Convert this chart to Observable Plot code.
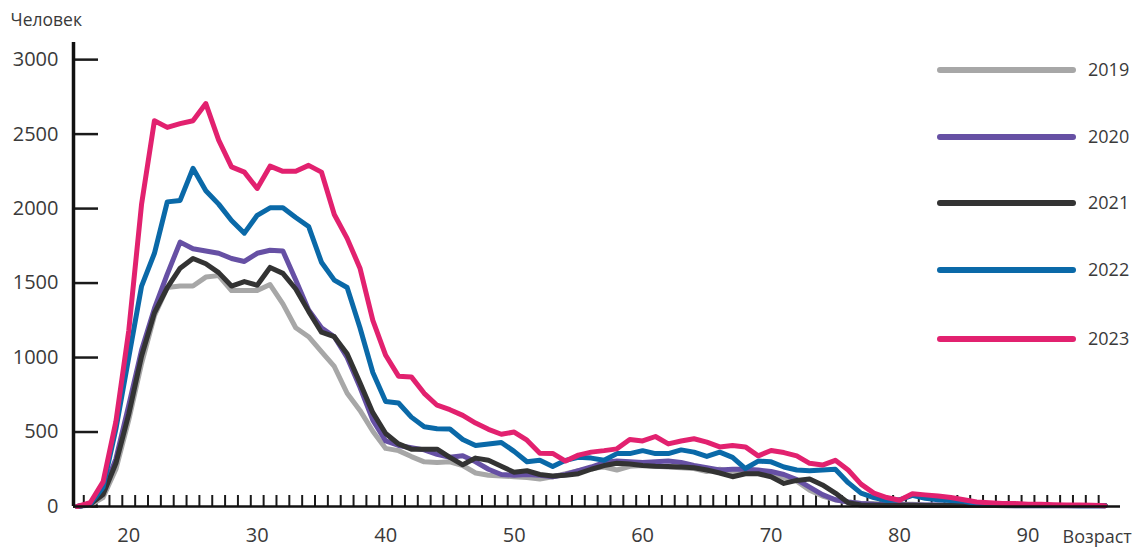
<!DOCTYPE html>
<html>
<head>
<meta charset="utf-8">
<script src="https://cdn.jsdelivr.net/npm/d3@7"></script>
<script src="https://cdn.jsdelivr.net/npm/@observablehq/plot@0.6"></script>
<style>
  html, body { margin: 0; padding: 0; background: #fff; }
  #chart { width: 1133px; height: 547px; }
</style>
</head>
<body>
<div id="chart"></div>
<script>
const ages = [16,17,18,19,20,21,22,23,24,25,26,27,28,29,30,31,32,33,34,35,36,37,38,39,40,41,42,43,44,45,46,47,48,49,50,51,52,53,54,55,56,57,58,59,60,61,62,63,64,65,66,67,68,69,70,71,72,73,74,75,76,77,78,79,80,81,82,83,84,85,86,87,88,89,90,91,92,93,94,95,96];

const v2019 = [0,10,60,250,580,960,1280,1470,1480,1480,1540,1550,1450,1450,1450,1490,1360,1200,1140,1040,940,760,645,505,390,375,335,300,295,300,275,225,210,205,200,195,185,200,220,240,255,265,245,270,275,270,265,260,255,235,250,230,240,230,215,195,170,110,70,45,30,20,20,15,15,15,10,10,10,10,8,8,5,5,5,5,5,5,5,5,5];
const v2020 = [0,15,100,320,680,1050,1330,1560,1775,1730,1715,1700,1665,1645,1700,1720,1715,1520,1320,1200,1140,1000,800,580,440,410,395,380,350,330,340,300,250,215,210,215,210,200,215,240,265,295,305,300,295,300,305,295,275,260,245,250,250,245,235,215,180,130,80,45,30,20,15,12,12,10,10,10,8,8,8,6,6,5,5,5,5,5,5,5,5];
const v2021 = [0,15,80,290,620,1010,1300,1470,1600,1665,1630,1570,1480,1510,1485,1605,1565,1460,1310,1170,1140,1025,830,630,490,420,385,385,385,330,280,325,310,270,230,240,215,205,210,220,250,275,290,285,275,270,268,265,260,245,225,200,220,220,200,155,175,185,145,90,25,10,8,8,8,8,6,6,6,6,6,6,6,6,6,6,6,6,6,6,6];
const v2022 = [0,15,130,520,1000,1480,1700,2045,2055,2270,2120,2030,1920,1835,1955,2005,2005,1940,1880,1640,1520,1470,1200,900,705,695,600,535,522,520,450,410,420,430,370,300,310,268,310,330,325,310,355,355,375,355,355,380,365,336,365,330,255,305,300,265,245,240,245,250,160,90,60,40,45,75,55,45,40,35,20,15,12,10,8,8,6,6,5,5,5];
const v2023 = [0,25,165,570,1180,2030,2590,2545,2570,2590,2705,2460,2280,2245,2135,2285,2250,2250,2290,2245,1960,1800,1600,1250,1015,875,870,760,680,650,612,560,518,485,500,445,358,356,305,345,365,375,387,450,440,470,420,440,455,432,400,409,400,340,376,362,340,290,278,310,245,150,90,60,42,85,78,70,60,45,30,25,20,20,15,15,12,10,10,8,5];

const years = ["2019","2020","2021","2022","2023"];
const colors = ["#a7a7a7","#6650a4","#333333","#0a69a8","#e2216f"];
const yTicks = [0,500,1000,1500,2000,2500,3000];
const xLabelTicks = [20,30,40,50,60,70,80,90];
const xMinorTicks = [16.5,17.5,18.5,19.5,20.5,21.5,22.5,23.5,24.5,25.5,26.5,27.5,28.5,29.5,30.5,31.5,32.5,33.5,34.5,35.5,36.5,37.5,38.5,39.5,40.5,41.5,42.5,43.5,44.5,45.5,46.5,47.5,48.5,49.5,50.5,51.5,52.5,53.5,54.5,55.5,56.5,57.5,58.5,59.5,60.5,61.5,62.5,63.5,64.5,65.5,66.5,67.5,68.5,69.5,70.5,71.5,72.5,73.5,74.5,75.5,76.5,77.5,78.5,79.5,80.5,81.5,82.5,83.5,84.5,85.5,86.5,87.5,88.5,89.5,90.5,91.5,92.5,93.5,94.5,95.5];
const yLabel = "Человек";
const xLabel = "Возраст";

const series = [v2019, v2020, v2021, v2022, v2023];
const data = years.flatMap((yr, i) => ages.map((a, j) => ({year: yr, age: a, value: series[i][j]})));

const xMin = 15.7, xMax = 97.2, yMax = 3115;
const textColor = "#3a3a3a";
const fmt = d => String(d);

const chart = Plot.plot({
  width: 1133,
  height: 547,
  marginLeft: 73,
  marginRight: 13,
  marginTop: 42,
  marginBottom: 41,
  style: {fontFamily: "'Open Sans', sans-serif", fontSize: "20px", color: textColor, background: "#fff", overflow: "visible"},
  x: {domain: [xMin, xMax]},
  y: {domain: [0, yMax]},
  color: {domain: years, range: colors},
  marks: [
    Plot.axisY({ticks: yTicks, tickSize: 0, tickPadding: 15, fontSize: 20, label: null, fill: textColor, tickFormat: fmt}),
    Plot.axisY({ticks: yTicks, tickSize: 25, dx: 25, fill: "none", stroke: "#1a1a1a", strokeWidth: 2.5, label: null}),
    Plot.axisX({ticks: xLabelTicks, tickSize: 0, tickPadding: 21, fontSize: 20, label: null, fill: textColor, tickFormat: fmt}),
    Plot.axisX({ticks: xMinorTicks, tickSize: 11, dy: -11, fill: "none", stroke: "#1a1a1a", strokeWidth: 2, label: null}),
    Plot.line(data, {x: "age", y: "value", z: "year", stroke: "year", strokeWidth: 5, strokeLinejoin: "round", strokeLinecap: "round"}),
    Plot.ruleX([xMin], {y1: 0, y2: yMax, stroke: "#111", strokeWidth: 3.5}),
    Plot.ruleY([0], {x1: xMin, x2: xMax, stroke: "#111", strokeWidth: 2.5}),
    Plot.text([yLabel], {frameAnchor: "top-left", text: d => d, dx: -63, dy: -22, textAnchor: "start", lineAnchor: "middle", fontSize: 17.5, fill: textColor}),
    Plot.text([xLabel], {frameAnchor: "bottom-right", text: d => d, dx: -58, dy: 31, textAnchor: "start", lineAnchor: "middle", fontSize: 18, fill: textColor})
  ]
});

// Legend drawn inside the svg
const svg = d3.select(chart);
const legendY = [70, 137, 203, 270, 339];
const lg = svg.append("g").attr("class", "legend").attr("text-anchor", "start");
years.forEach((yr, i) => {
  lg.append("line")
    .attr("x1", 940).attr("x2", 1073)
    .attr("y1", legendY[i]).attr("y2", legendY[i])
    .attr("stroke", colors[i]).attr("stroke-width", 6).attr("stroke-linecap", "round");
  lg.append("text")
    .attr("x", 1088).attr("y", legendY[i]).attr("dy", "0.35em")
    .attr("text-anchor", "start")
    .attr("fill", textColor)
    .style("font-family", "'Open Sans', sans-serif")
    .style("font-size", "18px")
    .text(yr);
});

document.getElementById("chart").appendChild(chart);
</script>
</body>
</html>
